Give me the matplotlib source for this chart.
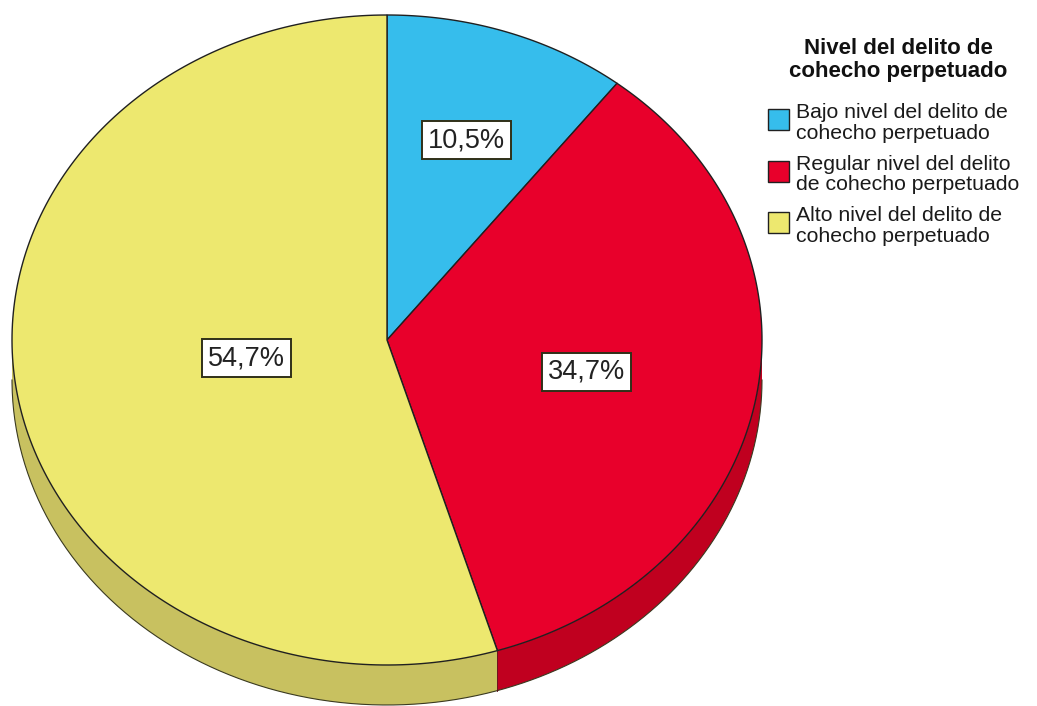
import numpy as np
import matplotlib
matplotlib.use("Agg")
import matplotlib.pyplot as plt
from matplotlib.patches import Polygon, Rectangle

plt.rcParams['font.family'] = ['Liberation Sans', 'DejaVu Sans']

categories = ["Bajo nivel del delito de\ncohecho perpetuado",
              "Regular nivel del delito\nde cohecho perpetuado",
              "Alto nivel del delito de\ncohecho perpetuado"]
percentages = [10.5, 34.7, 54.7]
pct_labels = ["10,5%", "34,7%", "54,7%"]
legend_title = "Nivel del delito de\ncohecho perpetuado"

top_colors = ["#36bdec", "#e8002b", "#ede86f"]
side_colors = ["#2a96bb", "#c0001f", "#c8c160"]
label_radius = [0.65, 0.54, 0.38]

W, H = 1037, 706
fig = plt.figure(figsize=(W / 100, H / 100), dpi=100)
ax = fig.add_axes([0, 0, 1, 1])
# pixel geometry of the ellipse
cxp, cyp, rxp, ryp, depthp = 387, 340, 375, 325, 40
ax.set_xlim(-cxp / rxp, (W - cxp) / rxp)
ax.set_ylim(-(H - cyp) / ryp, cyp / ryp)
ax.set_aspect('auto')
ax.axis('off')
depth = depthp / ryp

vals = np.array(percentages, dtype=float)
fr = vals / vals.sum()
ends = 90 - 360 * np.cumsum(fr)
starts = np.concatenate([[90], ends[:-1]])

def arc(a0, a1, n=200, dy=0.0):
    t = np.radians(np.linspace(a0, a1, n))
    return np.column_stack([np.cos(t), np.sin(t) + dy])

# side faces (front half: angles between -180 and 0)
for s, e, sc in zip(starts, ends, side_colors):
    a0, a1 = max(e, -180), min(s, 0)
    if a1 > a0:
        top = arc(a0, a1)
        bot = arc(a1, a0, dy=-depth)
        ax.add_patch(Polygon(np.vstack([top, bot]), closed=True, facecolor=sc,
                             edgecolor='none', zorder=1))
        ax.plot(bot[:, 0], bot[:, 1], color='#3a3a20', lw=0.8, zorder=2)
b = np.radians(ends[1])
ax.plot([np.cos(b)] * 2, [np.sin(b), np.sin(b) - depth],
        color='#5a0010', lw=0.6, zorder=2)

# top faces
for s, e, tc in zip(starts, ends, top_colors):
    pts = np.vstack([[0, 0], arc(s, e)])
    ax.add_patch(Polygon(pts, closed=True, facecolor=tc, edgecolor='#202020',
                         lw=1.0, zorder=3))

# percentage labels
for s, e, lab, r in zip(starts, ends, pct_labels, label_radius):
    m = np.radians((s + e) / 2)
    ax.text(r * np.cos(m), r * np.sin(m), lab, ha='center', va='center',
            fontsize=19.5, color='#222222', zorder=5,
            bbox=dict(boxstyle='square,pad=0.22', facecolor='white',
                      edgecolor='#303018', lw=1.4))

# legend (drawn in a pixel-coordinate overlay)
lax = fig.add_axes([0, 0, 1, 1], facecolor='none')
lax.set_xlim(0, W)
lax.set_ylim(H, 0)
lax.axis('off')
for k, line in enumerate(legend_title.split("\n")):
    lax.text(898, 54 + 23 * k, line, ha='center', va='baseline',
             fontsize=16, fontweight='bold', color='#111111')
for i, (lab, c) in enumerate(zip(categories, top_colors)):
    y0 = 118 + 51.5 * i
    lax.add_patch(Rectangle((768, y0 - 9), 21, 21, facecolor=c,
                            edgecolor='#202020', lw=1.0))
    for k, line in enumerate(lab.split("\n")):
        lax.text(796, y0 + 21 * k, line, ha='left', va='baseline',
                 fontsize=15.3, color='#1a1a1a')

fig.savefig("out.png", dpi=100, facecolor='white')
